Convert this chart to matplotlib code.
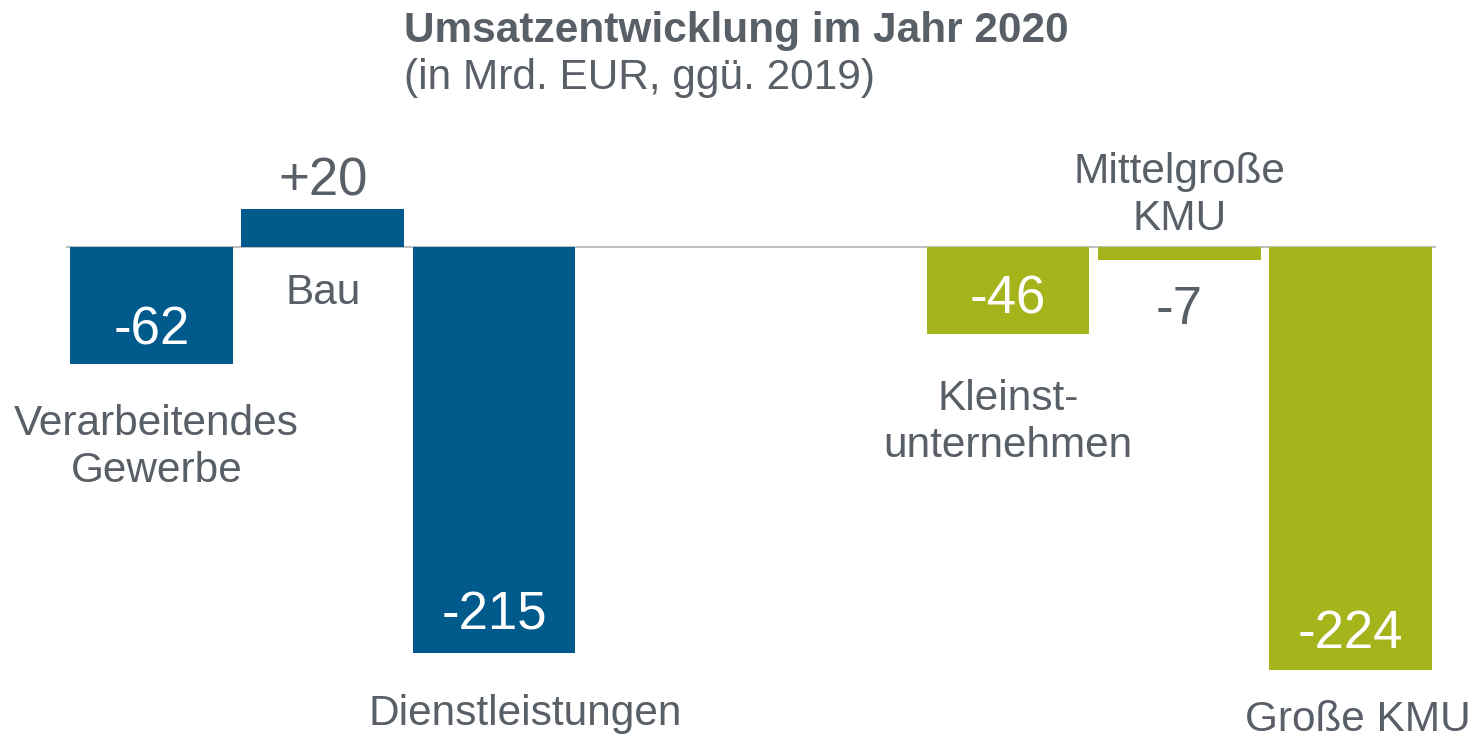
import matplotlib
matplotlib.use("Agg")
import matplotlib.pyplot as plt

plt.rcParams['font.family'] = ['Liberation Sans', 'DejaVu Sans']

# data
categories = ["Verarbeitendes\nGewerbe", "Bau", "Dienstleistungen",
              "Kleinst-\nunternehmen", "Mittelgroße\nKMU", "Große KMU"]
slots = [0, 1, 2, 5, 6, 7]
values = [-62, 20, -215, -46, -7, -224]
value_labels = ["-62", "+20", "-215", "-46", "-7", "-224"]

blue = "#005A8C"
green = "#A6B41C"
grey_txt = "#595F66"
colors = [blue, blue, blue, green, green, green]

# label placement (data units), tuned by eye
val_y = [-44.0, 34.6, -195, -28.0, -33.2, -204.5]
val_white = [True, False, True, True, False, True]
cat_y = [-106, -24.5, -246.8, -93, 27.2, -250.0]
cat_dx = [0.03, 0.0, 0.18, 0.0, 0.0, 0.04]

W, H = 1477, 740
fig = plt.figure(figsize=(W / 100, H / 100), dpi=100)
left_px, right_px = 65.85, 1436.3
ax = fig.add_axes([left_px / W, 0, (right_px - left_px) / W, 1])

ax.bar(slots, values, width=0.95, color=colors, zorder=2)
ax.axhline(0, color="#BFBFBF", lw=1.5, zorder=1)

ax.set_xlim(-0.5, 7.5)
ax.set_ylim(-260.8, 130.7)
ax.axis("off")

for s, lab, y, white in zip(slots, value_labels, val_y, val_white):
    ax.text(s, y, lab, ha="center", va="center", fontsize=38,
            color="white" if white else grey_txt, zorder=3)

for s, lab, y, dx in zip(slots, categories, cat_y, cat_dx):
    ax.text(s + dx, y, lab, ha="center", va="center", fontsize=30.5,
            color=grey_txt, linespacing=1.22, zorder=3)

fig.text(404 / W, 1 - 31 / H, "Umsatzentwicklung im Jahr 2020", ha="left",
         va="center", fontsize=30.5, fontweight="bold", color=grey_txt)
fig.text(404 / W, 1 - 78 / H, "(in Mrd. EUR, ggü. 2019)", ha="left",
         va="center", fontsize=30.5, color=grey_txt)

fig.savefig("out.png", dpi=100)
